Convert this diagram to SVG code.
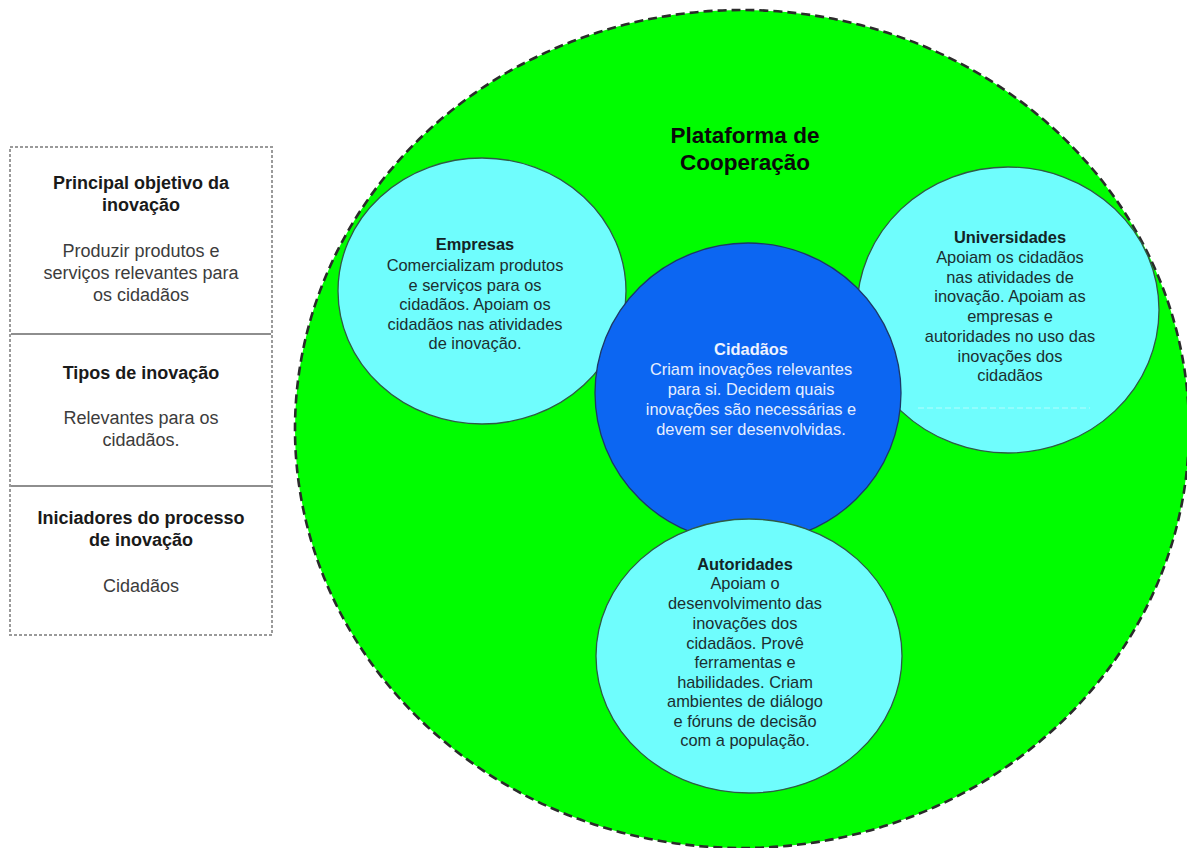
<svg xmlns="http://www.w3.org/2000/svg" width="1187" height="848" viewBox="0 0 1187 848">
  <style>
    text { font-family: "Liberation Sans", Arial, Helvetica, sans-serif; text-anchor: middle; }
    .tbl-h { font-size: 18px; font-weight: bold; fill: #1a1a1a; }
    .tbl-b { font-size: 18px; fill: #3c3c3c; }
    .title { font-size: 22.5px; font-weight: bold; fill: #0a0a0a; }
    .lbl-h { font-size: 16.4px; font-weight: bold; fill: #132426; }
    .lbl-b { font-size: 16.4px; fill: #1c2e30; }
    .core-h { font-size: 16.4px; font-weight: bold; fill: #eef3ff; }
    .core-b { font-size: 16.4px; fill: #e6eeff; }
    .actor { fill: #6ffdfd; stroke: #2f5a44; stroke-width: 1.3; }
    .core { fill: #0c66f2; stroke: #1d3866; stroke-width: 1.3; }
    .platform { fill: #00fd00; stroke: #2b2b2b; stroke-width: 2.6; stroke-dasharray: 9 5; }
    .frame { fill: #ffffff; stroke: #9a9a9a; stroke-width: 2; stroke-dasharray: 3 2; }
    .divider { stroke: #8e8e8e; stroke-width: 2; }
  </style>

  <!-- Summary table on the left -->
  <g id="summary-table">
    <rect class="frame" x="10" y="147" width="262" height="488"/>
    <line class="divider" x1="11" y1="334" x2="271" y2="334"/>
    <line class="divider" x1="11" y1="486" x2="271" y2="486"/>
    <g id="row-objetivo">
      <text class="tbl-h" x="141" y="189">Principal objetivo da</text>
      <text class="tbl-h" x="141" y="211">inovação</text>
      <text class="tbl-b" x="141" y="257">Produzir produtos e</text>
      <text class="tbl-b" x="141" y="279">serviços relevantes para</text>
      <text class="tbl-b" x="141" y="301">os cidadãos</text>
    </g>
    <g id="row-tipos">
      <text class="tbl-h" x="141" y="379">Tipos de inovação</text>
      <text class="tbl-b" x="141" y="424">Relevantes para os</text>
      <text class="tbl-b" x="141" y="446">cidadãos.</text>
    </g>
    <g id="row-iniciadores">
      <text class="tbl-h" x="141" y="524">Iniciadores do processo</text>
      <text class="tbl-b" x="141" y="546" style="font-weight:bold;fill:#1a1a1a">de inovação</text>
      <text class="tbl-b" x="141" y="592">Cidadãos</text>
    </g>
  </g>

  <!-- Cooperation platform (outer area) -->
  <g id="plataforma">
    <ellipse class="platform" cx="742" cy="429" rx="447" ry="419"/>
    <text class="title" x="745" y="143">Plataforma de</text>
    <text class="title" x="745" y="170">Cooperação</text>
  </g>

  <!-- Connectors: none in this drawing -->
  <g id="connectors"></g>

  <g id="empresas">
    <ellipse class="actor" cx="482" cy="291" rx="144" ry="133"/>
    <text class="lbl-h" x="475" y="250">Empresas</text>
    <text class="lbl-b" x="475" y="271">Comercializam produtos</text>
    <text class="lbl-b" x="475" y="291">e serviços para os</text>
    <text class="lbl-b" x="475" y="310">cidadãos. Apoiam os</text>
    <text class="lbl-b" x="475" y="330">cidadãos nas atividades</text>
    <text class="lbl-b" x="475" y="349">de inovação.</text>
  </g>

  <g id="universidades">
    <ellipse class="actor" cx="1008" cy="310" rx="151" ry="143"/>
    <text class="lbl-h" x="1010" y="243">Universidades</text>
    <text class="lbl-b" x="1010" y="263">Apoiam os cidadãos</text>
    <text class="lbl-b" x="1010" y="283">nas atividades de</text>
    <text class="lbl-b" x="1010" y="302">inovação. Apoiam as</text>
    <text class="lbl-b" x="1010" y="322">empresas e</text>
    <text class="lbl-b" x="1010" y="342">autoridades no uso das</text>
    <text class="lbl-b" x="1010" y="362">inovações dos</text>
    <text class="lbl-b" x="1010" y="381">cidadãos</text>
    <line x1="918" y1="408" x2="1090" y2="408" stroke="#c8ffff" stroke-width="1" stroke-dasharray="6 3" opacity="0.8"/>
  </g>

  <g id="cidadaos">
    <ellipse class="core" cx="748" cy="393" rx="153" ry="150"/>
    <text class="core-h" x="751" y="355">Cidadãos</text>
    <text class="core-b" x="751" y="375">Criam inovações relevantes</text>
    <text class="core-b" x="751" y="395">para si. Decidem quais</text>
    <text class="core-b" x="751" y="415">inovações são necessárias e</text>
    <text class="core-b" x="751" y="435">devem ser desenvolvidas.</text>
  </g>

  <g id="autoridades">
    <ellipse class="actor" cx="749" cy="656" rx="153" ry="137"/>
    <text class="lbl-h" x="745" y="570">Autoridades</text>
    <text class="lbl-b" x="745" y="589">Apoiam o</text>
    <text class="lbl-b" x="745" y="609">desenvolvimento das</text>
    <text class="lbl-b" x="745" y="629">inovações dos</text>
    <text class="lbl-b" x="745" y="649">cidadãos. Provê</text>
    <text class="lbl-b" x="745" y="668">ferramentas e</text>
    <text class="lbl-b" x="745" y="688">habilidades. Criam</text>
    <text class="lbl-b" x="745" y="707">ambientes de diálogo</text>
    <text class="lbl-b" x="745" y="727">e fóruns de decisão</text>
    <text class="lbl-b" x="745" y="746">com a população.</text>
  </g>
</svg>
